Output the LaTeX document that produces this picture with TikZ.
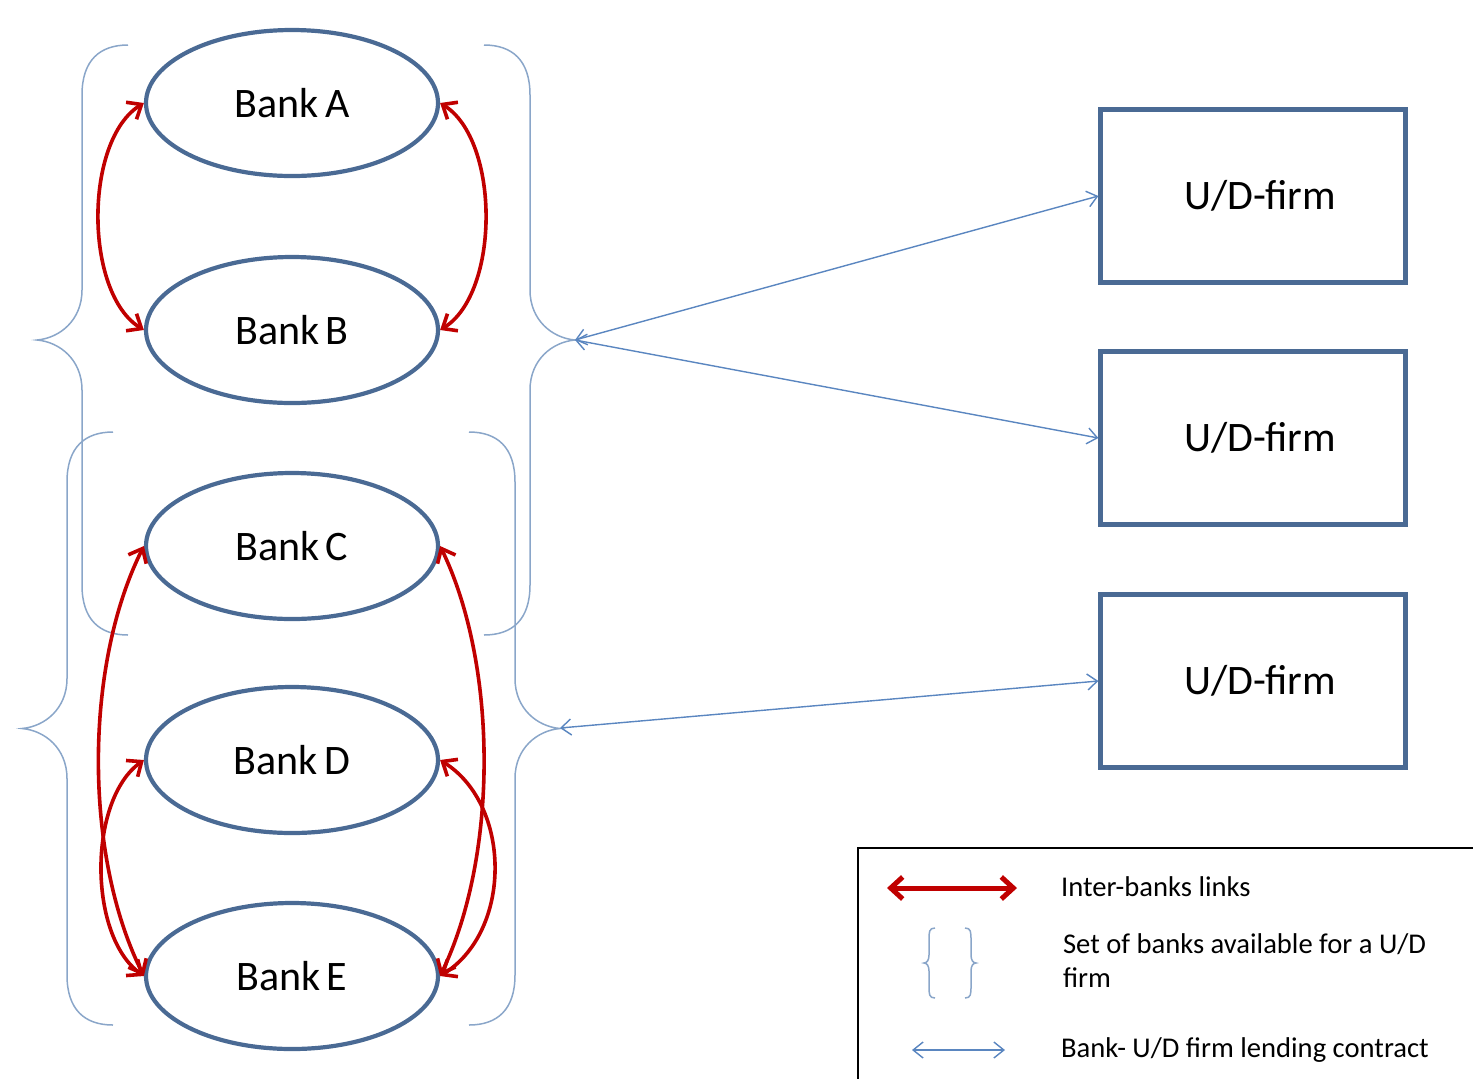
\documentclass[tikz,border=0pt]{standalone}
\usepackage{fontspec}
\setmainfont{Carlito}
\usetikzlibrary{arrows.meta,shapes.geometric}
\definecolor{shapeblue}{HTML}{4A6A94}
\definecolor{linkblue}{HTML}{5A86C0}
\definecolor{braceblue}{HTML}{8AA6C9}
\definecolor{linkred}{HTML}{C00000}
% narrow word spaces for the bank labels
\newcommand\narrowspaces{\spaceskip=0.15em\relax}
\begin{document}
\begin{tikzpicture}[x=0.5pt,y=-0.5pt,
  bank/.style={ellipse, draw=shapeblue, line width=2.1pt, fill=white,
    minimum width=146pt, minimum height=73pt, inner sep=0pt,
    font=\fontsize{21}{25}\selectfont\narrowspaces},
  firm/.style={rectangle, draw=shapeblue, line width=2.1pt, fill=white,
    minimum width=152.5pt, minimum height=86.5pt, inner sep=0pt,
    font=\fontsize{21}{25}\selectfont},
  interbank/.style={draw=linkred, line width=1.8pt,
    {Straight Barb[length=6pt,width=10pt]}-{Straight Barb[length=6pt,width=10pt]}},
  lending/.style={draw=linkblue, line width=0.7pt,
    {Straight Barb[length=5pt,width=8pt]}-{Straight Barb[length=5pt,width=8pt]}},
  setline/.style={draw=braceblue, line width=0.75pt},
  legendtext/.style={anchor=west, font=\fontsize{14.3}{17}\selectfont, align=left},
  pics/setbrace/.style={code={
    \draw[setline] (46,0) .. controls (18,0) and (0,15) .. (0,50)
      -- (0,{#1/2-50}) .. controls (0,{#1/2-20}) and (-22,{#1/2-2}) .. (-45,{#1/2})
      .. controls (-22,{#1/2+2}) and (0,{#1/2+20}) .. (0,{#1/2+50})
      -- (0,{#1-50}) .. controls (0,{#1-15}) and (18,#1) .. (46,#1);
  }}
]
\useasboundingbox (0,0) rectangle (1473,1078);

% sets of banks available to each firm
\pic at (82,45) {setbrace=590};
\pic[xscale=-1] at (530,45) {setbrace=590};
\pic at (67,432) {setbrace=593};
\pic[xscale=-1] at (515,432) {setbrace=593};
\coordinate (set1) at (575,340);
\coordinate (set2) at (560,728);

% banks
\node[bank] (A) at (292,103) {Bank A};
\node[bank] (B) at (292,330) {Bank B};
\node[bank] (C) at (292,546) {Bank C};
\node[bank] (D) at (292,760) {Bank D};
\node[bank] (E) at (292,976) {Bank E};

% firms
\node[firm] (F1) at (1253,196) {\hspace*{7pt}U/D-firm};
\node[firm] (F2) at (1253,438) {\hspace*{7pt}U/D-firm};
\node[firm] (F3) at (1253,681) {\hspace*{7pt}U/D-firm};

% inter-bank links
\draw[interbank] (A.west) .. controls +(-60,37) and +(-60,-37) .. (B.west);
\draw[interbank] (A.east) .. controls +(60,37) and +(60,-37) .. (B.east);
\draw[interbank] (C.west) .. controls +(-60,120) and +(-60,-120) .. (E.west);
\draw[interbank] (D.west) .. controls +(-56,40) and +(-56,-40) .. (E.west);
\draw[interbank] (C.east) .. controls +(58,120) and +(58,-120) .. (E.east);
\draw[interbank] (D.east) .. controls +(72,45) and +(72,-45) .. (E.east);

% lending contracts
\draw[lending] (set1) -- (F1.west);
\draw[lending] (set1) -- (F2.west);
\draw[lending] (set2) -- (F3.west);

% legend
\draw[black, line width=0.7pt] (1480,848) -- (858,848) -- (858,1090);
\coordinate (lr1) at (887,888);
\coordinate (lr2) at (1017,888);
\draw[draw=linkred, line width=2.5pt,
  {Straight Barb[length=6pt,width=11pt]}-{Straight Barb[length=6pt,width=11pt]}] (lr1) -- (lr2);
\node[legendtext] (L1) at (1054,887) {Inter-banks links};
\draw[setline] (935,928) .. controls (929,928) and (929,932) .. (929,940)
  -- (929,955) .. controls (929,960) and (927,963) .. (924,963)
  .. controls (927,963) and (929,966) .. (929,971) -- (929,986)
  .. controls (929,994) and (929,998) .. (935,998);
\draw[setline] (965,928) .. controls (971,928) and (971,932) .. (971,940)
  -- (971,955) .. controls (971,960) and (973,963) .. (976,963)
  .. controls (973,963) and (971,966) .. (971,971) -- (971,986)
  .. controls (971,994) and (971,998) .. (965,998);
\node[legendtext] (L2) at (1056,961) {Set of banks available for a U/D\\firm};
\coordinate (lb1) at (912,1050);
\coordinate (lb2) at (1005,1050);
\draw[lending] (lb1) -- (lb2);
\node[legendtext] (L3) at (1054,1050) {Bank- U/D firm lending contract};
\end{tikzpicture}
\end{document}
